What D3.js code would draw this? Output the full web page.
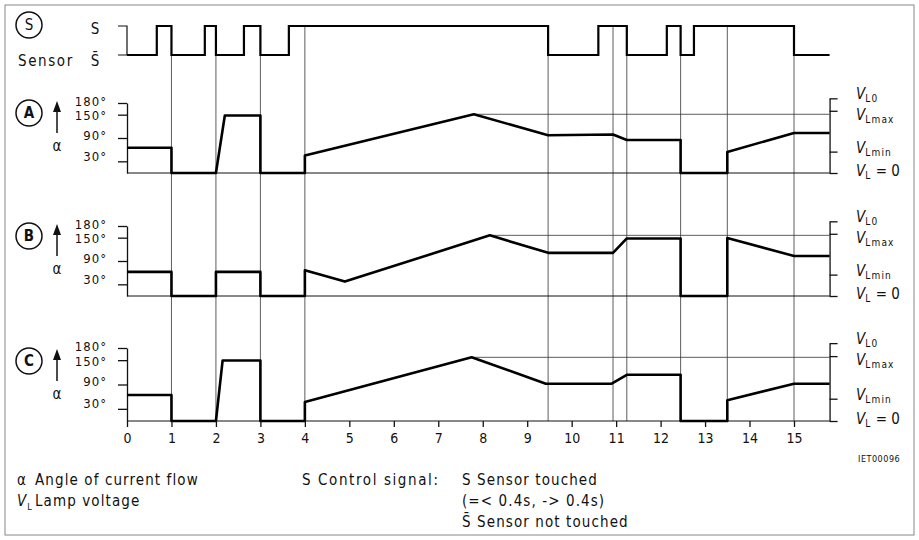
<!DOCTYPE html>
<html>
<head>
<meta charset="utf-8">
<script src="https://cdn.jsdelivr.net/npm/d3@7"></script>
<style>
body { margin: 0; background: #fff; }
text { font-family: "DejaVu Sans Condensed", "Liberation Sans Narrow", "DejaVu Sans", sans-serif; fill: #111; }
</style>
</head>
<body>
<svg id="chart" width="919" height="540"></svg>
<script>
// time axis (s)
const xTicks = d3.range(0, 16);
const tEnd = 15.8;

// sensor signal S (1 = touched)
const sensorT = [0, 0.67, 1, 1.75, 2, 2.63, 3, 3.64, 9.47, 10.6, 11.24, 12.14, 12.45, 12.75, 15, 15.8];
const sensorS = [0, 1, 0, 1, 0, 1, 0, 1, 0, 1, 0, 1, 0, 1, 0, 0];

// vertical reference lines
const gridT = [1, 2, 3, 4, 9.47, 10.93, 11.24, 12.45, 13.5, 15];

// angle of current flow, degrees
const tA = [0, 1, 1, 2, 2.2, 3, 3, 4, 4, 7.8, 9.47, 10.93, 11.24, 12.45, 12.45, 13.5, 13.5, 15, 15.8];
const vA = [65, 65, 0, 0, 148, 148, 0, 0, 45, 151, 97, 99, 85, 85, 0, 0, 54, 103, 103];

const tB = [0, 1, 1, 2, 2, 3, 3, 4, 4, 4.9, 8.16, 9.47, 10.93, 11.24, 12.45, 12.45, 13.5, 13.5, 15, 15.8];
const vB = [62, 62, 0, 0, 62, 62, 0, 0, 66, 37, 156, 111, 111, 148, 148, 0, 0, 149, 103, 103];

const tC = [0, 1, 1, 2, 2.15, 3, 3, 4, 4, 7.75, 9.42, 10.9, 11.24, 12.45, 12.45, 13.5, 13.5, 15, 15.8];
const vC = [64, 64, 0, 0, 149, 149, 0, 0, 47, 157, 92, 92, 114, 114, 0, 0, 51, 92, 92];

// axes
const leftTicks = [30, 90, 150, 180];
const rightTicks = [0, 55, 160, 192];
const rightSub = ["L", "Lmin", "Lmax", "L0"];
const rightTail = [" = 0", "", "", ""];

const FONT = '"DejaVu Sans Condensed", "Liberation Sans Narrow", "DejaVu Sans", sans-serif';
const svg = d3.select("#chart");
const x = d3.scaleLinear().domain([0, 15]).range([127, 794]);
const xR = x(tEnd);

// frame
svg.append("rect").attr("x", 5).attr("y", 5).attr("width", 909).attr("height", 530)
  .attr("fill", "none").attr("stroke", "#888").attr("stroke-width", 1);

// Sensor row
const sHigh = 26, sLow = 55;
const sy = s => s ? sHigh : sLow;
const stateBefore = t => { let s = 0; sensorT.forEach((tt, i) => { if (tt < t) s = sensorS[i]; }); return s; };

const panels = [
  { id: "A", t: tA, v: vA, base: 173, h: 70 },
  { id: "B", t: tB, v: vB, base: 296, h: 70 },
  { id: "C", t: tC, v: vC, base: 421, h: 73 }
];
const bottom = panels[2].base;

// vertical grid
svg.append("g").selectAll("line").data(gridT).enter().append("line")
  .attr("x1", d => x(d)).attr("x2", d => x(d))
  .attr("y1", d => sy(stateBefore(d))).attr("y2", bottom)
  .attr("stroke", "#333").attr("stroke-width", 0.8);

// sensor axis bracket
svg.append("path").attr("d", `M118,${sHigh}H127V${sLow}H118`).attr("fill", "none").attr("stroke", "#111").attr("stroke-width", 1.2);
const sLine = d3.line().x((d, i) => x(sensorT[i])).y(d => sy(d)).curve(d3.curveStepAfter);
svg.append("path").datum(sensorS).attr("d", sLine).attr("fill", "none").attr("stroke", "#000").attr("stroke-width", 2.2);

svg.append("circle").attr("cx", 29).attr("cy", 25).attr("r", 13).attr("fill", "none").attr("stroke", "#111").attr("stroke-width", 1.5);
svg.append("text").attr("x", 29).attr("y", 30).attr("text-anchor", "middle").attr("font-size", 15).text("S");
svg.append("text").attr("x", 95).attr("y", 34).attr("text-anchor", "middle").attr("font-size", 15).text("S");
svg.append("text").attr("x", 18).attr("y", 66).attr("font-size", 15).attr("letter-spacing", 1.6).text("Sensor");
svg.append("text").attr("x", 95).attr("y", 66).attr("text-anchor", "middle").attr("font-size", 15).text("S\u0304");

panels.forEach(p => {
  const y = d3.scaleLinear().domain([0, 180]).range([p.base, p.base - p.h]);
  const yR = d3.scaleLinear().domain([0, 192]).range([p.base, y(192)]);
  const g = svg.append("g");

  // baseline
  g.append("line").attr("x1", x(0)).attr("x2", xR).attr("y1", p.base).attr("y2", p.base)
    .attr("stroke", "#111").attr("stroke-width", 1);

  // left axis
  const la = g.append("g").attr("transform", "translate(127,0)")
    .call(d3.axisLeft(y).tickValues(leftTicks).tickSize(9).tickSizeOuter(0).tickPadding(11).tickFormat(d => d + "°"));
  la.selectAll("path, line").attr("stroke", "#111").attr("stroke-width", 1.3);
  const dys = { 30: "-0.1em", 90: "0.1em", 150: "0.4em", 180: "0.2em" };
  la.selectAll("text").attr("font-size", 13).attr("letter-spacing", 1).attr("dy", d => dys[d])
    .style("font-family", FONT).attr("fill", "#111");

  // right axis
  const ra = g.append("g").attr("transform", `translate(${xR},0)`)
    .call(d3.axisRight(yR).tickValues(rightTicks).tickSize(8).tickSizeOuter(0).tickFormat(""));
  ra.selectAll("path, line").attr("stroke", "#111").attr("stroke-width", 1.3);
  const offs = [-2, -4, 4, -4];
  rightTicks.forEach((v, i) => {
    const t = g.append("text").attr("x", 856).attr("y", yR(v) + offs[i] + 5).attr("font-size", 15);
    t.append("tspan").attr("font-style", "italic").text("V");
    t.append("tspan").attr("font-size", 10).attr("letter-spacing", 1.2).attr("dy", 3).text(rightSub[i]);
    if (rightTail[i]) t.append("tspan").attr("dy", -3).text(rightTail[i]);
  });

  // reference line at peak level
  const im = d3.maxIndex(p.v);
  g.append("line").attr("x1", x(p.t[im])).attr("x2", xR).attr("y1", y(p.v[im])).attr("y2", y(p.v[im]))
    .attr("stroke", "#333").attr("stroke-width", 0.8);

  // trace
  const line = d3.line().x((d, i) => x(p.t[i])).y(d => y(d));
  g.append("path").datum(p.v).attr("d", line).attr("fill", "none").attr("stroke", "#000")
    .attr("stroke-width", 2.6).attr("stroke-linejoin", "round");

  // panel label, arrow, alpha
  g.append("circle").attr("cx", 29).attr("cy", p.base - 60).attr("r", 13).attr("fill", "none").attr("stroke", "#111").attr("stroke-width", 1.5);
  g.append("text").attr("x", 29).attr("y", p.base - 55).attr("text-anchor", "middle").attr("font-size", 15).attr("font-weight", "bold").text(p.id);
  g.append("line").attr("x1", 57).attr("x2", 57).attr("y1", p.base - 40).attr("y2", p.base - 63)
    .attr("stroke", "#111").attr("stroke-width", 1.5);
  g.append("path").attr("d", `M53,${p.base - 61}L57,${p.base - 72}L61,${p.base - 61}Z`).attr("fill", "#111");
  g.append("text").attr("x", 57).attr("y", p.base - 22).attr("text-anchor", "middle").attr("font-size", 15).text("α");
});

// time axis
const xa = svg.append("g").attr("transform", `translate(0,${bottom})`)
  .call(d3.axisBottom(x).tickValues(xTicks).tickSize(6).tickPadding(6));
xa.select(".domain").remove();
xa.selectAll("line").attr("stroke", "#111").attr("stroke-width", 1.3);
xa.selectAll("text").attr("font-size", 14).attr("fill", "#111").style("font-family", FONT);

svg.append("text").attr("x", 858).attr("y", 462).attr("font-size", 9).attr("letter-spacing", 0.5).text("IET00096");

// legend
const leg = svg.append("g").attr("font-size", 15).attr("letter-spacing", 1.1);
leg.append("text").attr("x", 17).attr("y", 485).text("α");
leg.append("text").attr("x", 35).attr("y", 485).text("Angle of current flow");
const vl = leg.append("text").attr("x", 17).attr("y", 506);
vl.append("tspan").attr("font-style", "italic").text("V");
vl.append("tspan").attr("font-size", 9).attr("dy", 4).text("L");
leg.append("text").attr("x", 35).attr("y", 506).text("Lamp voltage");
leg.append("text").attr("x", 302).attr("y", 485).attr("letter-spacing", 1.6).text("S Control signal:");
leg.append("text").attr("x", 462).attr("y", 485).text("S Sensor touched");
leg.append("text").attr("x", 462).attr("y", 506).text("(=< 0.4s, -> 0.4s)");
leg.append("text").attr("x", 462).attr("y", 527).text("S\u0304 Sensor not touched");
</script>
</body>
</html>
